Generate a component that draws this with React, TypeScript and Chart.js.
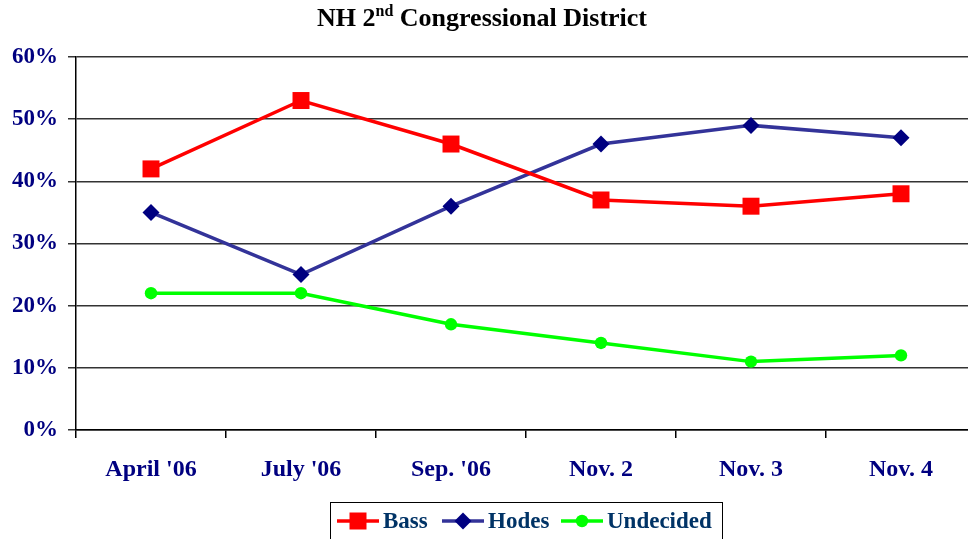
import React, { useEffect, useRef } from "react";
import { Chart, registerables } from "chart.js";

Chart.register(...registerables);

const categories = ["April '06", "July '06", "Sep. '06", "Nov. 2", "Nov. 3", "Nov. 4"];
const bass = [42, 53, 46, 37, 36, 38];
const hodes = [35, 25, 36, 46, 49, 47];
const undecided = [22, 22, 17, 14, 11, 12];
const yMin = 0;
const yMax = 60;
const yStep = 10;

const FONT = "'Liberation Serif', 'Times New Roman', serif";

const overlayPlugin = {
  id: "overlay",
  afterDraw(chart: any) {
    const ctx = chart.ctx as CanvasRenderingContext2D;
    ctx.save();
    // Title
    ctx.fillStyle = "#000";
    ctx.textBaseline = "alphabetic";
    ctx.textAlign = "left";
    const big = `bold 26px ${FONT}`;
    const small = `bold 16px ${FONT}`;
    const p1 = "NH 2";
    const p2 = "nd";
    const p3 = " Congressional District";
    ctx.font = big;
    const w1 = ctx.measureText(p1).width;
    const w3 = ctx.measureText(p3).width;
    ctx.font = small;
    const w2 = ctx.measureText(p2).width;
    const total = w1 + w2 + w3;
    let x = 482 - total / 2;
    const by = 26;
    ctx.font = big;
    ctx.fillText(p1, x, by);
    x += w1;
    ctx.font = small;
    ctx.fillText(p2, x, by - 10);
    x += w2;
    ctx.font = big;
    ctx.fillText(p3, x, by);

    // Legend
    ctx.strokeStyle = "#000";
    ctx.lineWidth = 1;
    ctx.strokeRect(330.5, 502.5, 392, 40);
    const ly = 521;
    const items = chart.data.datasets.map((ds: any, i: number) => ({
      ds,
      x0: [337, 442, 561][i],
    }));
    ctx.font = `bold 23px ${FONT}`;
    ctx.textBaseline = "middle";
    items.forEach(({ ds, x0 }: any) => {
      ctx.strokeStyle = ds.borderColor;
      ctx.lineWidth = 3.5;
      ctx.beginPath();
      ctx.moveTo(x0, ly);
      ctx.lineTo(x0 + 42, ly);
      ctx.stroke();
      const cx = x0 + 21;
      ctx.fillStyle = ds.pointBackgroundColor;
      ctx.beginPath();
      if (ds.pointStyle === "rect") {
        ctx.rect(cx - 8.5, ly - 8.5, 17, 17);
      } else if (ds.pointStyle === "rectRot") {
        ctx.moveTo(cx, ly - 8.5);
        ctx.lineTo(cx + 8.5, ly);
        ctx.lineTo(cx, ly + 8.5);
        ctx.lineTo(cx - 8.5, ly);
        ctx.closePath();
      } else {
        ctx.arc(cx, ly, 6.2, 0, Math.PI * 2);
      }
      ctx.fill();
      ctx.fillStyle = "#003366";
      ctx.fillText(ds.label, x0 + 46, ly + 1);
    });
    ctx.restore();
  },
};

export default function App() {
  const ref = useRef<HTMLCanvasElement | null>(null);
  useEffect(() => {
    if (!ref.current) return;
    const chart = new Chart(ref.current, {
      type: "line",
      data: {
        labels: categories,
        datasets: [
          {
            label: "Bass",
            data: bass,
            borderColor: "#FF0000",
            backgroundColor: "#FF0000",
            pointBackgroundColor: "#FF0000",
            pointBorderColor: "#FF0000",
            pointStyle: "rect",
            pointRadius: 12,
            pointBorderWidth: 0,
            borderWidth: 3.5,
          },
          {
            label: "Hodes",
            data: hodes,
            borderColor: "#333399",
            backgroundColor: "#000080",
            pointBackgroundColor: "#000080",
            pointBorderColor: "#000080",
            pointStyle: "rectRot",
            pointRadius: 8.5,
            pointBorderWidth: 0,
            borderWidth: 3.5,
          },
          {
            label: "Undecided",
            data: undecided,
            borderColor: "#00FF00",
            backgroundColor: "#00FF00",
            pointBackgroundColor: "#00FF00",
            pointBorderColor: "#00FF00",
            pointStyle: "circle",
            pointRadius: 6.2,
            pointBorderWidth: 0,
            borderWidth: 3.5,
          },
        ],
      },
      options: {
        responsive: false,
        animation: false,
        events: [],
        layout: { padding: { top: 57, right: 14, left: 0, bottom: 0 } },
        plugins: {
          legend: { display: false },
          title: { display: false },
          tooltip: { enabled: false },
        },
        scales: {
          x: {
            type: "category",
            offset: true,
            grid: {
              offset: true,
              drawOnChartArea: false,
              drawTicks: true,
              tickLength: 8,
              color: "#000",
              lineWidth: 1.5,
            },
            border: { display: true, color: "#000", width: 1.5 },
            ticks: {
              color: "#000080",
              font: { family: FONT, size: 24, weight: "bold" },
              padding: 17,
              maxRotation: 0,
              autoSkip: false,
            },
            afterFit(scale: any) {
              scale.height = 109;
            },
          },
          y: {
            min: yMin,
            max: yMax,
            grid: {
              color: "#333",
              lineWidth: 1.5,
              tickLength: 8,
            },
            border: { display: true, color: "#000", width: 1.5 },
            ticks: {
              stepSize: yStep,
              color: "#000080",
              font: { family: FONT, size: 23, weight: "bold" },
              padding: 10,
              callback: (v: any) => `${v}%`,
            },
            afterFit(scale: any) {
              scale.width = 76;
            },
          },
        },
      },
      plugins: [overlayPlugin],
    });
    return () => chart.destroy();
  }, []);

  return (
    <div
      style={{
        position: "fixed",
        left: 0,
        top: 0,
        width: 968,
        height: 539,
        overflow: "hidden",
        background: "#fff",
      }}
    >
      <canvas
        ref={ref}
        width={990}
        height={539}
        style={{ width: 990, height: 539, display: "block" }}
      />
    </div>
  );
}
